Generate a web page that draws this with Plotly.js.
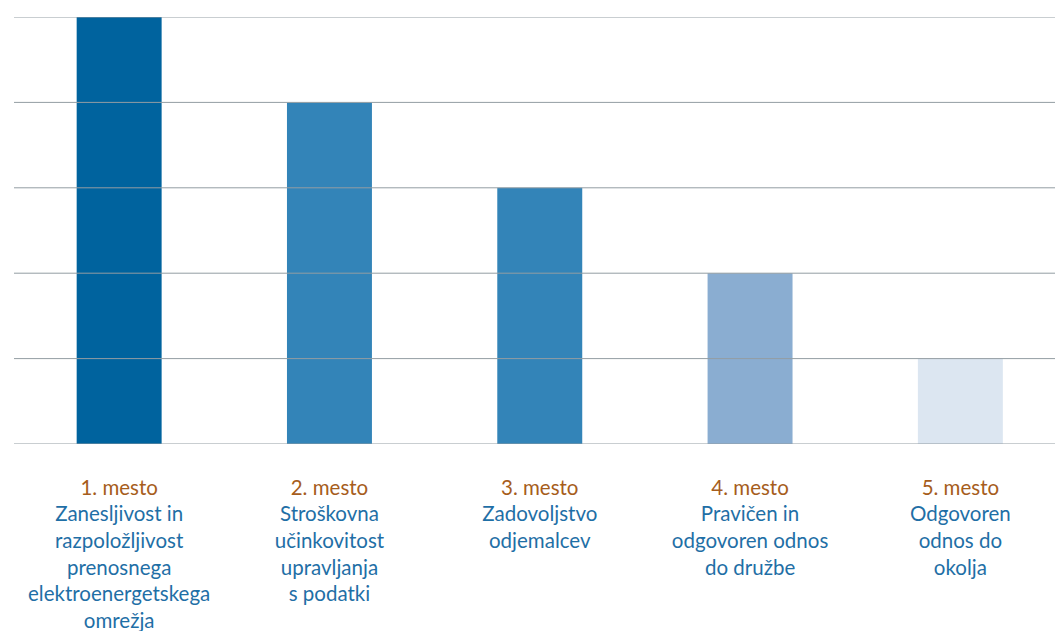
<!DOCTYPE html>
<html><head><meta charset="utf-8">
<script src="https://cdn.plot.ly/plotly-3.0.1.min.js"></script>
<style>html,body{margin:0;padding:0;background:#fff}#chart{width:1055px;height:631px}</style>
</head><body><div id="chart"></div>
<script>
const ranks = ["1. mesto","2. mesto","3. mesto","4. mesto","5. mesto"];
const labels = [
  "Zanesljivost in<br>razpoložljivost<br>prenosnega<br>elektroenergetskega<br>omrežja",
  "Stroškovna<br>učinkovitost<br>upravljanja<br>s podatki",
  "Zadovoljstvo<br>odjemalcev",
  "Pravičen in<br>odgovoren odnos<br>do družbe",
  "Odgovoren<br>odnos do<br>okolja"
];
const values = [5,4,3,2,1];
const colors = ["#00639e","#3384b8","#3384b8","#8aadd1","#dce6f1"];
const gridVals = [0,1,2,3,4,5];

const cats = ranks.map((r,i)=>"c"+i);
const ticktext = ranks.map((r,i)=>'<span style="color:#a65d1c">'+r+'</span><br>'+labels[i]);

const trace = {type:'bar', x:cats, y:values, marker:{color:colors, line:{width:0}}, hoverinfo:'none'};
const shapes = gridVals.map(v=>({type:'line', xref:'paper', x0:0, x1:1, yref:'y', y0:v, y1:v, line:{color:'#939da3', width:1}, layer:'above'}));

const layout = {
  width:1055, height:631,
  margin:{l:14, r:0, t:17, b:187},
  paper_bgcolor:'#fff', plot_bgcolor:'#fff',
  bargap:0.596,
  showlegend:false,
  font:{family:'Lato, "Open Sans", sans-serif', size:20.5, color:'#1f6fa6'},
  xaxis:{type:'category', range:[-0.5,4.45], tickvals:cats, ticktext:ticktext, ticks:'outside', ticklen:25, tickcolor:'rgba(0,0,0,0)', showgrid:false, zeroline:false, showline:false, tickfont:{size:20.5, color:'#1f6fa6'}},
  yaxis:{range:[0,5], showgrid:false, zeroline:false, showticklabels:false, showline:false},
  shapes:shapes
};
Plotly.newPlot('chart',[trace],layout,{displayModeBar:false, staticPlot:true});
</script></body></html>
